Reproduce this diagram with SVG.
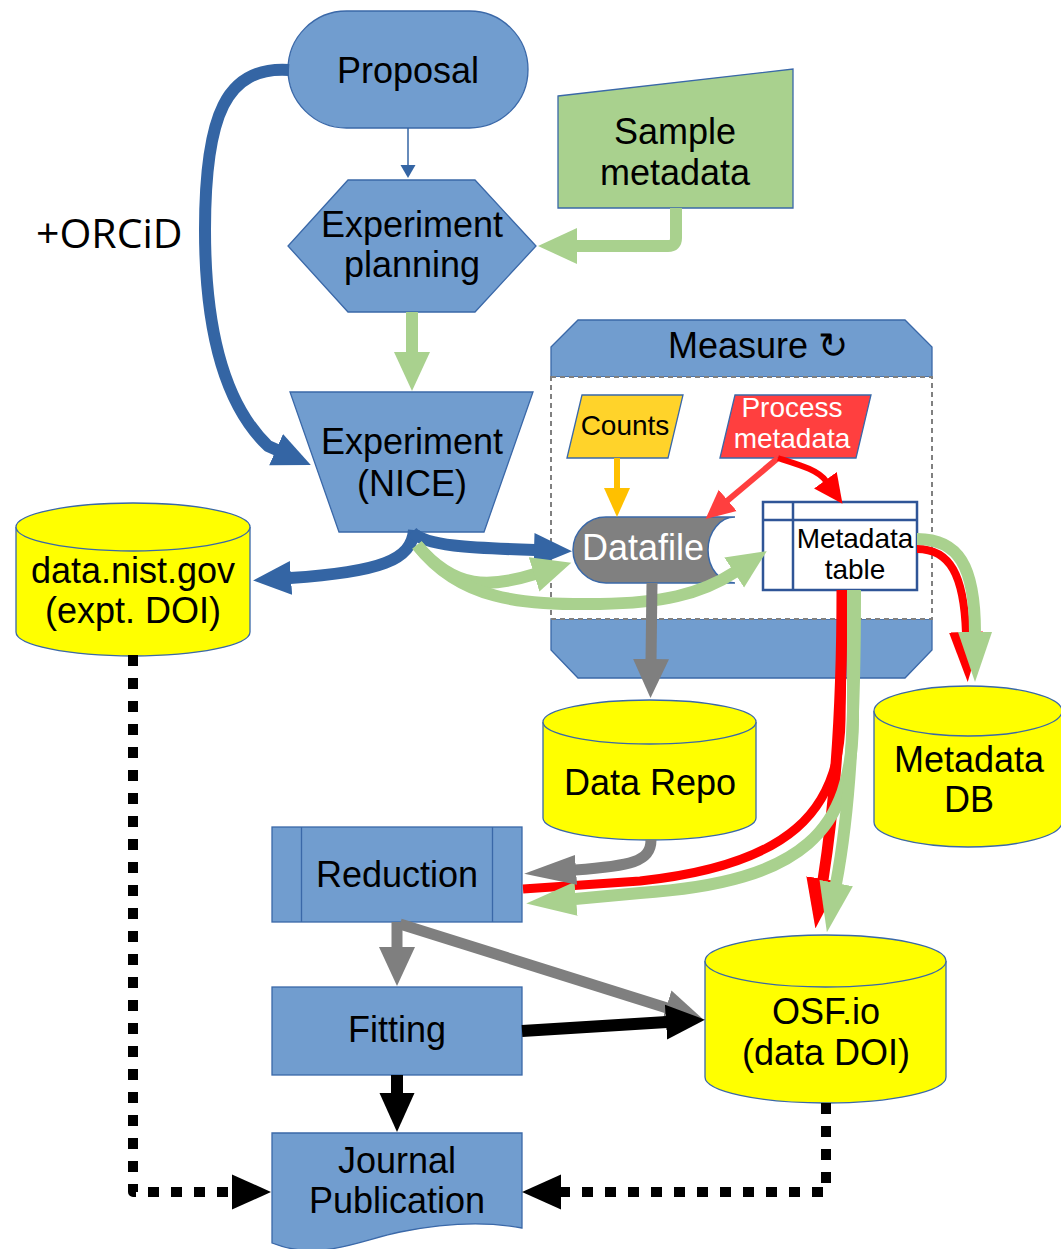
<svg xmlns="http://www.w3.org/2000/svg" width="1061" height="1249" viewBox="0 0 1061 1249">
<style>
.node{fill:#719DCF;stroke:#3A68A8;stroke-width:1.3}
.db{fill:#FFFF00;stroke:#3A68A8;stroke-width:1.3}
.t36{font-family:"Liberation Sans",Arial,sans-serif;font-size:36px;text-anchor:middle;fill:#000}
.t28{font-family:"Liberation Sans",Arial,sans-serif;font-size:28px;text-anchor:middle;fill:#000}
.c{fill:none;stroke-linecap:butt;stroke-linejoin:round}
.blue{stroke:#3465A4;stroke-width:12}
.green{stroke:#A9D18E;stroke-width:12}
.gray{stroke:#7F7F7F;stroke-width:11}
.black{stroke:#000;stroke-width:12}
.dots{stroke:#000;stroke-width:10;stroke-dasharray:11 12}
</style>
<defs>
<marker id="hBlue" viewBox="0 -18 38 36" refX="1" refY="0" markerWidth="38" markerHeight="36" markerUnits="userSpaceOnUse" orient="auto"><path d="M0,-17 L38,0 L0,17 Z" fill="#3465A4"/></marker>
<marker id="hBlueS" viewBox="0 -8 13 16" refX="1" refY="0" markerWidth="13" markerHeight="16" markerUnits="userSpaceOnUse" orient="auto"><path d="M0,-7.5 L13,0 L0,7.5 Z" fill="#3465A4"/></marker>
<marker id="hGreen" viewBox="0 -19 40 38" refX="1" refY="0" markerWidth="40" markerHeight="38" markerUnits="userSpaceOnUse" orient="auto"><path d="M0,-18 L39,0 L0,18 Z" fill="#A9D18E"/></marker>
<marker id="hGreenL" viewBox="0 -18 50 36" refX="1" refY="0" markerWidth="50" markerHeight="36" markerUnits="userSpaceOnUse" orient="auto"><path d="M0,-17 L50,0 L0,17 Z" fill="#A9D18E"/></marker>
<marker id="hRedL" viewBox="0 -18 50 36" refX="1" refY="0" markerWidth="50" markerHeight="36" markerUnits="userSpaceOnUse" orient="auto"><path d="M0,-17 L50,0 L0,17 Z" fill="#FF0000"/></marker>
<marker id="hGray" viewBox="0 -19 40 38" refX="1" refY="0" markerWidth="40" markerHeight="38" markerUnits="userSpaceOnUse" orient="auto"><path d="M0,-18 L39,0 L0,18 Z" fill="#7F7F7F"/></marker>
<marker id="hGrayL" viewBox="0 -16 52 32" refX="1" refY="0" markerWidth="52" markerHeight="32" markerUnits="userSpaceOnUse" orient="auto"><path d="M0,-15 L52,0 L0,15 Z" fill="#7F7F7F"/></marker>
<marker id="hBlack" viewBox="0 -18 39 36" refX="1" refY="0" markerWidth="39" markerHeight="36" markerUnits="userSpaceOnUse" orient="auto"><path d="M0,-17.5 L39,0 L0,17.5 Z" fill="#000"/></marker>
<marker id="hOrange" viewBox="0 -14 30 28" refX="1" refY="0" markerWidth="30" markerHeight="28" markerUnits="userSpaceOnUse" orient="auto"><path d="M0,-13 L29,0 L0,13 Z" fill="#FFC000"/></marker>
<marker id="hRedS" viewBox="0 -15 30 30" refX="1" refY="0" markerWidth="30" markerHeight="30" markerUnits="userSpaceOnUse" orient="auto"><path d="M0,-14 L29,0 L0,14 Z" fill="#FF3F3F"/></marker>
<marker id="hRedS2" viewBox="0 -15 30 30" refX="1" refY="0" markerWidth="30" markerHeight="30" markerUnits="userSpaceOnUse" orient="auto"><path d="M0,-14 L29,0 L0,14 Z" fill="#FF0000"/></marker>
</defs>
<rect width="1061" height="1249" fill="#fff"/>

<g id="measure">
<polygon class="node" points="551,347 578,320 905,320 932,347 932,377 551,377"/>
<polygon class="node" points="551,619 932,619 932,650 905,678 578,678 551,650"/>
<rect x="551" y="377" width="381" height="242" fill="#fff" stroke="#808080" stroke-width="2" stroke-dasharray="5 4"/>
<text class="t36" x="758" y="358">Measure ↻</text>
</g>

<g id="proposal">
<rect class="node" x="288" y="11" width="240" height="117" rx="58.5"/>
<text class="t36" x="408" y="83">Proposal</text>
</g>
<g id="planning">
<polygon class="node" points="348,180 475,180 536,246 475,312 348,312 288,246"/>
<text class="t36" x="412" y="237">Experiment</text>
<text class="t36" x="412" y="277">planning</text>
</g>
<g id="sample">
<polygon points="558,96 793,69 793,208 558,208" fill="#A9D18E" stroke="#3A68A8" stroke-width="1.3"/>
<text class="t36" x="675" y="144">Sample</text>
<text class="t36" x="675" y="185">metadata</text>
</g>
<g id="nice">
<polygon class="node" points="290,392 533,392 484,532 339,532"/>
<text class="t36" x="412" y="454">Experiment</text>
<text class="t36" x="412" y="496">(NICE)</text>
</g>
<g id="datanist">
<path class="db" d="M16,527 A117,24 0 0 1 250,527 V632 A117,24 0 0 1 16,632 Z"/>
<path class="db" fill="none" d="M16,527 A117,24 0 0 0 250,527"/>
<text class="t36" x="133" y="583">data.nist.gov</text>
<text class="t36" x="133" y="623">(expt. DOI)</text>
</g>
<g id="counts">
<polygon points="567,458 582,395 683,395 668,458" fill="#FFD32A" stroke="#3A68A8" stroke-width="1.3"/>
<text class="t28" x="625" y="435">Counts</text>
</g>
<g id="process">
<polygon points="720,458 735,395 871,395 856,458" fill="#FF3F3F" stroke="#3A68A8" stroke-width="1.3"/>
<text class="t28" x="792" y="417" style="fill:#fff">Process</text>
<text class="t28" x="792" y="448" style="fill:#fff">metadata</text>
</g>
<g id="datafile">
<path d="M606,517 H735 A27,33 0 0 0 735,583 H606 A33,33 0 0 1 606,517 Z" fill="#808080" stroke="#3A68A8" stroke-width="1.5"/>
<text class="t36" x="643" y="560" style="fill:#fff">Datafile</text>
</g>
<g id="mdtable">
<rect x="763" y="502" width="154" height="88" fill="#fff" stroke="#2F5597" stroke-width="2.5"/>
<line x1="763" y1="520" x2="917" y2="520" stroke="#2F5597" stroke-width="2.5"/>
<line x1="793" y1="502" x2="793" y2="590" stroke="#2F5597" stroke-width="2.5"/>
<text class="t28" x="855" y="548">Metadata</text>
<text class="t28" x="855" y="579">table</text>
</g>
<g id="datarepo">
<path class="db" d="M543,722 A106.5,22 0 0 1 756,722 V818 A106.5,22 0 0 1 543,818 Z"/>
<path class="db" fill="none" d="M543,722 A106.5,22 0 0 0 756,722"/>
<text class="t36" x="650" y="795">Data Repo</text>
</g>
<g id="metadb">
<path class="db" d="M874,711 A94,25 0 0 1 1062,711 V822 A94,25 0 0 1 874,822 Z"/>
<path class="db" fill="none" d="M874,711 A94,25 0 0 0 1062,711"/>
<text class="t36" x="969" y="772">Metadata</text>
<text class="t36" x="969" y="812">DB</text>
</g>
<g id="reduction">
<rect class="node" x="272" y="827" width="250" height="95"/>
<line x1="301.5" y1="827" x2="301.5" y2="922" stroke="#3A68A8" stroke-width="1.3"/>
<line x1="492.5" y1="827" x2="492.5" y2="922" stroke="#3A68A8" stroke-width="1.3"/>
<text class="t36" x="397" y="887">Reduction</text>
</g>
<g id="fitting">
<rect class="node" x="272" y="987" width="250" height="88"/>
<text class="t36" x="397" y="1042">Fitting</text>
</g>
<g id="osf">
<path class="db" d="M705,961 A120.5,26 0 0 1 946,961 V1077 A120.5,26 0 0 1 705,1077 Z"/>
<path class="db" fill="none" d="M705,961 A120.5,26 0 0 0 946,961"/>
<text class="t36" x="826" y="1024">OSF.io</text>
<text class="t36" x="826" y="1065">(data DOI)</text>
</g>
<g id="journal">
<path class="node" d="M272,1133 H522 V1228 C490,1222 450,1222 400,1232 C360,1240 320,1262 272,1243 Z"/>
<text class="t36" x="397" y="1173">Journal</text>
<text class="t36" x="397" y="1213">Publication</text>
</g>

<g id="connectors">
<line x1="408" y1="128" x2="408" y2="166" stroke="#3465A4" stroke-width="1.5" marker-end="url(#hBlueS)"/>
<path class="c blue" stroke-width="13" d="M289,70 C226,66 205,115 205,230 C205,330 225,405 268,446 L277,450" marker-end="url(#hBlue)"/>
<path class="c green" d="M676,208 V238 Q676,246 668,246 H576" marker-end="url(#hGreen)"/>
<line class="c green" stroke-width="13" x1="412" y1="312" x2="412" y2="353" marker-end="url(#hGreen)"/>
<path class="c blue" d="M414,530 C412,560 380,572 290,578" marker-end="url(#hBlue)"/>
<path class="c blue" d="M412,532 C425,546 470,548 535,550" marker-end="url(#hBlue)"/>
<path class="c green" stroke-width="11" d="M417,545 C455,590 490,588 535,574" marker-end="url(#hGreen)"/>
<path class="c green" stroke-width="11" d="M417,545 C460,600 520,605 600,604 C660,603 700,595 735,572" marker-end="url(#hGreen)"/>
<line class="c" stroke="#FFC000" stroke-width="6" x1="617" y1="458" x2="617" y2="489" marker-end="url(#hOrange)"/>
<path class="c" stroke="#FF3F3F" stroke-width="6" d="M778,458 L727,501" marker-end="url(#hRedS)"/>
<path class="c" stroke="#FF0000" stroke-width="6" d="M778,458 C800,465 818,470 826,481" marker-end="url(#hRedS2)"/>
<line class="c gray" x1="652" y1="583" x2="651" y2="660" marker-end="url(#hGray)"/>
<path class="c" stroke="#FF0000" stroke-width="8" d="M917,549 C950,549 964,575 966,633" marker-end="url(#hRedL)"/>
<path class="c green" stroke-width="13" d="M917,539 C958,539 975,565 975,633" marker-end="url(#hGreenL)"/>
<path class="c" stroke="#FF0000" stroke-width="9" d="M843,590 L841,720 C840,810 790,865 640,881 L523,889"/>
<path class="c" stroke="#FF0000" stroke-width="11" d="M842,590 C842,720 834,810 823,880" marker-end="url(#hRedL)"/>
<path class="c green" stroke-width="10" d="M853,590 L853,720 C852,830 805,882 640,893 L575,899" marker-end="url(#hGreenL)"/>
<path class="c green" stroke-width="11" d="M855,590 C855,720 850,810 836,884" marker-end="url(#hGreenL)"/>
<path class="c gray" d="M651,840 C651,862 630,866 575,870" marker-end="url(#hGrayL)"/>
<line class="c gray" stroke-width="12" x1="397" y1="922" x2="397" y2="948" marker-end="url(#hGray)"/>
<line class="c gray" stroke-width="12" x1="400" y1="924" x2="667" y2="1008" marker-end="url(#hGray)"/>
<line class="c black" x1="522" y1="1031" x2="667" y2="1022" marker-end="url(#hBlack)"/>
<line class="c black" x1="397" y1="1075" x2="397" y2="1094" marker-end="url(#hBlack)"/>
<path class="c dots" d="M826,1103 V1192 H560" marker-end="url(#hBlack)"/>
<path class="c dots" d="M133,655 V1192 H233" marker-end="url(#hBlack)"/>
</g>
<text x="36" y="248" font-family="'Open Sans',sans-serif" font-size="41" fill="#000">+ORCiD</text>
</svg>
